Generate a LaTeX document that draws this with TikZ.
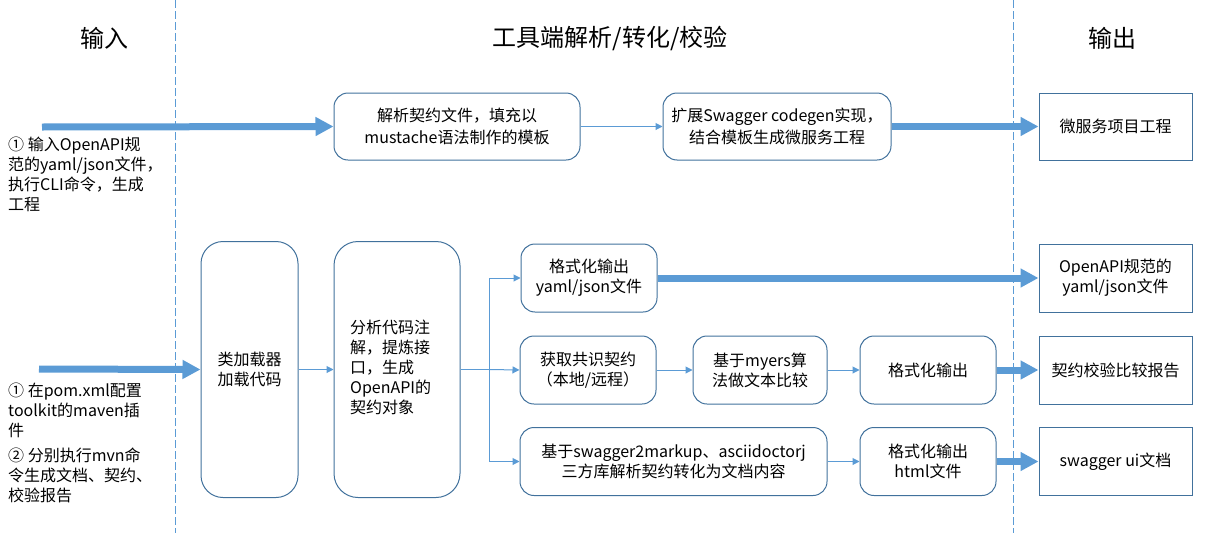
\documentclass[tikz,border=0pt]{standalone}
\usepackage{fontspec}
\setmainfont{Noto Sans CJK SC}
\usetikzlibrary{arrows.meta}
\definecolor{boxc}{HTML}{41719C}
\definecolor{arrc}{HTML}{5B9BD5}
\tikzset{
  txt/.style={font=\fontsize{16pt}{20pt}\selectfont, text=black},
  rbox/.style={txt, draw=boxc, line width=1pt, rounded corners=14pt, align=center, inner sep=0pt},
  obox/.style={txt, draw=boxc, line width=1pt, align=center, inner sep=0pt},
  thick arr/.style={draw=arrc, line width=7pt, -{Triangle[length=18pt,width=18pt]}},
  thin arr/.style={draw=arrc, line width=1pt, -{Triangle[length=7pt,width=7pt]}},
  divider/.style={draw=arrc, line width=1pt, dash pattern=on 8pt off 3pt},
  header/.style={font=\fontsize{24pt}{28pt}\selectfont, text=black}
}
\begin{document}
\begin{tikzpicture}[x=1pt,y=-1pt]
\useasboundingbox (0,0) rectangle (1207,533);
% dividers
\coordinate (d1t) at (175,0); \coordinate (d1b) at (175,533);
\coordinate (d2t) at (1013,0); \coordinate (d2b) at (1013,533);
\draw[divider] (d1t) -- (d1b);
\draw[divider] (d2t) -- (d2b);
% headers
\node[header] (h1) at (104,38) {输入};
\node[header] (h2) at (610,38) {工具端解析/转化/校验};
\node[header] (h3) at (1112,38) {输出};
% top row
\node[rbox, minimum width=246pt, minimum height=67pt, font=\fontsize{16pt}{22pt}\selectfont] (A) at (457,126.5) {解析契约文件，填充以\\mustache语法制作的模板};
\node[rbox, minimum width=228pt, minimum height=67pt, font=\fontsize{16pt}{22pt}\selectfont] (B) at (777,126.5) {扩展Swagger codegen实现，\\结合模板生成微服务工程};
\node[obox, minimum width=153pt, minimum height=67pt] (C) at (1115.5,126.5) {微服务项目工程};
\node[txt, anchor=north west, align=left, inner sep=0pt] (t1) at (8,137) {① 输入OpenAPI规\\范的yaml/json文件，\\执行CLI命令，生成\\工程};
\coordinate (s1) at (42,127);
\draw[thick arr] (s1) -- (A.west);
\draw[thin arr] (A.east) -- (B.west);
\draw[thick arr] (B.east) -- (C.west);
% lower left
\node[rbox, rounded corners=22pt, minimum width=97pt, minimum height=256pt] (D) at (249.5,369.5) {类加载器\\加载代码};
\node[rbox, rounded corners=24pt, minimum width=126pt, minimum height=256pt] (E) at (397,369.5) {};
\node[txt, anchor=north west, align=left, inner sep=0pt] (Et) at (350,320) {分析代码注\\解，提炼接\\口，生成\\OpenAPI的\\契约对象};
\node[txt, anchor=north west, align=left, inner sep=0pt] (t2) at (8,383) {① 在pom.xml配置\\toolkit的maven插\\件};
\node[txt, anchor=north west, align=left, inner sep=0pt] (t3) at (8,448) {② 分别执行mvn命\\令生成文档、契约、\\校验报告};
\coordinate (s2) at (39,369);
\draw[thick arr] (s2) -- (D.west);
\draw[thin arr] (D.east) -- (D.east -| E.west);
% branches
\node[rbox, minimum width=136pt, minimum height=68pt] (F) at (589,278) {格式化输出\\yaml/json文件};
\node[rbox, minimum width=136pt, minimum height=68pt] (G) at (588,370) {获取共识契约\\（本地/远程）};
\node[rbox, minimum width=134pt, minimum height=68pt] (J) at (760,370) {基于myers算\\法做文本比较};
\node[rbox, minimum width=136pt, minimum height=68pt] (K) at (928,370) {格式化输出};
\node[rbox, minimum width=307pt, minimum height=68pt] (H) at (673.5,461.5) {基于swagger2markup、asciidoctorj\\三方库解析契约转化为文档内容};
\node[rbox, minimum width=136pt, minimum height=68pt] (M) at (928,461.5) {格式化输出\\html文件};
\node[obox, minimum width=153pt, minimum height=68pt] (I) at (1115.5,278) {OpenAPI规范的\\yaml/json文件};
\node[obox, minimum width=153pt, minimum height=68pt] (L) at (1115.5,370) {契约校验比较报告};
\node[obox, minimum width=153pt, minimum height=68pt] (N) at (1115.5,461.5) {swagger ui文档};
\coordinate (bj) at (489,369.5);
\draw[draw=arrc, line width=1pt] (E.east |- bj) -- (bj);
\draw[thin arr] (bj) |- (F.west);
\draw[thin arr] (bj) -- (G.west);
\draw[thin arr] (bj) |- (H.west);
\draw[thick arr] (F.east) -- (I.west);
\draw[thin arr] (G.east) -- (J.west);
\draw[thin arr] (J.east) -- (K.west);
\draw[thick arr] (K.east) -- (L.west);
\draw[thin arr] (H.east) -- (M.west);
\draw[thick arr] (M.east) -- (N.west);
\end{tikzpicture}
\end{document}
